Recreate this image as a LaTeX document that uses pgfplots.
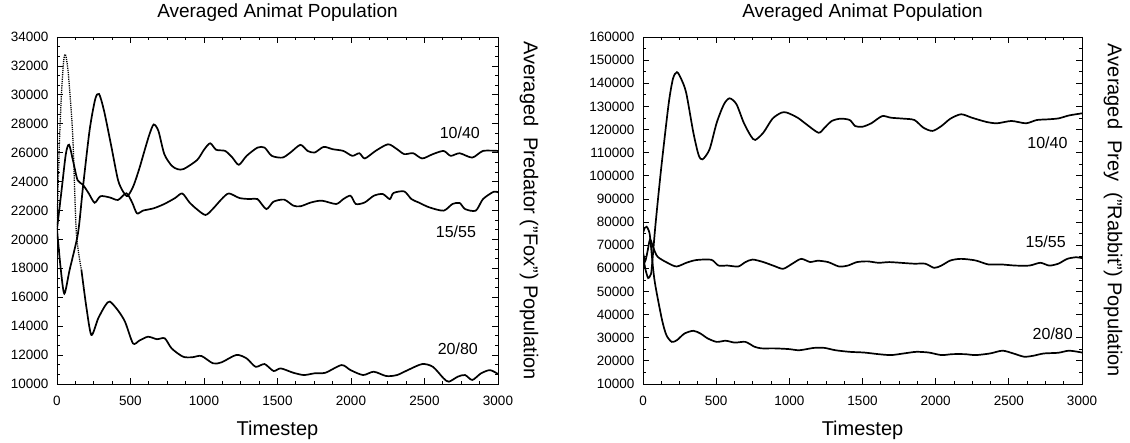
\documentclass[border=0pt]{standalone}
\usepackage{fontspec}
\setmainfont{Liberation Sans}
\usepackage{pgfplots}
\pgfplotsset{compat=1.18}

\pgfplotsset{
  popaxis/.style={
    scale only axis, anchor=south west, height=347pt,
    xmin=0, xmax=3000, xtick={0,500,...,3000}, minor x tick num=3,
    tick pos=both, xticklabel pos=bottom, yticklabel pos=left,
    tick align=inside,
    major tick length=6pt, minor tick length=3pt,
    every tick/.style={black, line width=0.8pt},
    axis line style={line width=0.9pt},
    scaled ticks=false,
    /pgf/number format/.cd, fixed, 1000 sep={}, assume math mode=true, /pgfplots/.cd,
    tick label style={font=\fontsize{13.5}{15}\selectfont},
    xticklabel style={yshift=-9pt},
    yticklabel style={xshift=-5pt},
    title style={anchor=base, yshift=13pt, font=\fontsize{19}{22}\selectfont},
    xlabel style={at={(0.5,0)}, anchor=base, yshift=-51pt, font=\fontsize{20}{24}\selectfont},
    every axis y label/.style={at={(rel axis cs:1,0.5)}, xshift=31pt, anchor=center, rotate=-90, font=\fontsize{20}{24}\selectfont},
    cycle list={black,mark=none,line width=1.7pt,smooth,tension=0.45\\},
    title={Averaged Animat Population},
    xlabel={Timestep},
  },
}
\tikzset{runlabel/.style={font=\fontsize{16}{18}\selectfont, anchor=center}}

\begin{document}
\begin{tikzpicture}
\useasboundingbox (0,0) rectangle (1130pt,442pt);

% left: predators
\begin{axis}[popaxis, at={(57pt,58pt)}, width=441pt,
  ymin=10000, ymax=34000, ytick={10000,12000,...,34000}, minor y tick num=2,
  ylabel={Averaged\ \ Predator ("Fox") Population}]
% 10/40
\addplot coordinates {(0,20700) (25,18000) (50,16250) (86,17900) (143,20440) (177,23650) (222,27570) (260,29700) (286,30060) (320,28900) (370,26410) (415,24110) (450,23300) (480,23000) (520,23700) (560,24900) (600,26300) (630,27300) (658,27950) (690,27500) (730,25900) (780,25100) (820,24860) (862,24870) (953,25490) (1000,26200) (1042,26650) (1083,26200) (1144,26120) (1193,25660) (1237,25160) (1290,25780) (1364,26350) (1412,26350) (1461,25780) (1534,25660) (1588,26010) (1656,26540) (1705,26120) (1753,26010) (1814,26400) (1875,26240) (1948,26120) (2009,25780) (2057,25960) (2094,25600) (2167,26120) (2252,26580) (2313,26240) (2362,25900) (2423,25960) (2484,25600) (2557,25900) (2630,26120) (2678,25780) (2739,25960) (2825,25660) (2898,26120) (3000,26120)};
% 15/55
\addplot coordinates {(0,20700) (30,23300) (60,25900) (82,26550) (110,25400) (140,24100) (175,23800) (215,23200) (256,22540) (296,22990) (360,22900) (415,22730) (472,23190) (511,22560) (544,21800) (584,21990) (657,22150) (730,22450) (803,22860) (852,23180) (901,22560) (950,22100) (1010,21690) (1059,22100) (1120,22790) (1169,23180) (1242,22860) (1315,22790) (1364,22790) (1424,22100) (1473,22610) (1546,22750) (1607,22340) (1656,22290) (1729,22560) (1802,22680) (1899,22450) (1948,22790) (1997,23020) (2033,22450) (2094,22560) (2155,23020) (2216,23140) (2264,22790) (2289,23210) (2362,23320) (2411,22790) (2459,22560) (2532,22220) (2630,21990) (2690,22450) (2739,22520) (2776,22100) (2849,21990) (2898,22790) (2971,23300) (3000,23250)};
% 20/80, fast start drawn dotted
\addplot[black, line width=1.3pt, dash pattern=on 1.2pt off 1pt, smooth, tension=0.45] coordinates {(0,20700) (14,26000) (30,30000) (45,32300) (57,32800) (75,31700) (98,28700) (110,26500) (132,20400) (166,17900)};
\addplot coordinates {(166,17900) (200,15300) (234,13390) (280,14530) (329,15440) (360,15700) (414,15100) (463,14300) (517,12810) (560,13000) (619,13270) (680,13100) (733,13160) (780,12460) (857,11890) (920,11850) (982,11940) (1061,11430) (1120,11500) (1220,12010) (1290,11770) (1351,11190) (1412,11380) (1473,10900) (1522,11080) (1607,10780) (1680,10620) (1753,10740) (1826,10780) (1936,11310) (1997,10960) (2082,10620) (2155,10850) (2240,10550) (2313,10620) (2386,10960) (2484,11380) (2557,11190) (2630,10390) (2666,10160) (2727,10510) (2776,10620) (2825,10280) (2885,10740) (2946,10960) (3000,10690)};
\node[runlabel] at (axis cs:2740,27400) {10/40};
\node[runlabel] at (axis cs:2714,20500) {15/55};
\node[runlabel] at (axis cs:2727,12460) {20/80};
\end{axis}

% right: prey
\begin{axis}[popaxis, at={(643pt,58pt)}, width=439pt,
  ymin=10000, ymax=160000, ytick={10000,20000,...,160000}, minor y tick num=1,
  ylabel={Averaged\ \ Prey\ \ ("Rabbit") Population}]
% 10/40
\addplot coordinates {(0,66000) (15,60000) (35,55800) (50,57000) (59,59500) (84,78000) (123,102500) (175,131000) (205,142000) (232,144800) (260,142000) (295,135900) (344,118700) (380,109000) (407,107100) (455,111500) (504,123000) (553,130900) (592,133500) (639,130900) (688,123000) (737,117200) (767,115500) (823,118700) (885,124700) (946,127300) (984,127300) (1057,125100) (1118,122200) (1200,118600) (1241,120800) (1290,123700) (1351,124700) (1413,124100) (1450,121500) (1499,121200) (1560,122700) (1634,125800) (1695,125100) (1781,124700) (1855,124100) (1916,120800) (1978,119400) (2039,121500) (2101,124700) (2174,126600) (2248,125100) (2346,123300) (2420,122700) (2518,123700) (2617,122700) (2690,124100) (2764,124400) (2838,124800) (2912,126100) (3000,127000)};
% 15/55
\addplot coordinates {(0,67000) (14,63000) (30,67000) (48,72500) (70,69000) (100,65000) (173,62200) (230,60800) (300,62500) (366,63600) (467,63700) (516,61200) (577,61200) (651,60800) (700,62700) (749,63800) (823,62700) (897,61000) (958,59800) (1020,62000) (1081,64100) (1143,62700) (1192,63300) (1265,62700) (1339,60800) (1400,61200) (1462,62700) (1536,63000) (1609,62400) (1683,62700) (1781,62300) (1855,62000) (1929,62000) (1990,60200) (2039,61200) (2101,63400) (2174,64100) (2273,63400) (2359,61700) (2445,61700) (2543,61200) (2641,61200) (2715,62400) (2776,61200) (2838,62000) (2899,64100) (2961,64800) (3000,64400)};
% 20/80
\addplot coordinates {(0,75300) (12,77500) (25,78000) (38,76500) (48,73700) (70,59300) (86,52000) (130,37700) (160,31100) (197,28200) (233,29000) (283,31800) (344,33000) (393,31800) (442,29700) (504,28200) (565,28700) (627,27900) (700,28200) (762,26100) (811,25400) (897,25400) (995,25100) (1069,24600) (1167,25600) (1241,25600) (1314,24600) (1413,23900) (1511,23600) (1609,22900) (1695,22500) (1781,23200) (1867,23900) (1953,23600) (2039,22500) (2113,22900) (2199,22900) (2273,22500) (2371,23200) (2457,24400) (2531,23200) (2604,21800) (2666,22200) (2739,23200) (2838,23500) (2912,24400) (3000,23600)};
\node[runlabel] at (axis cs:2764,114300) {10/40};
\node[runlabel] at (axis cs:2752,71300) {15/55};
\node[runlabel] at (axis cs:2800,31800) {20/80};
\end{axis}
\end{tikzpicture}
\end{document}
